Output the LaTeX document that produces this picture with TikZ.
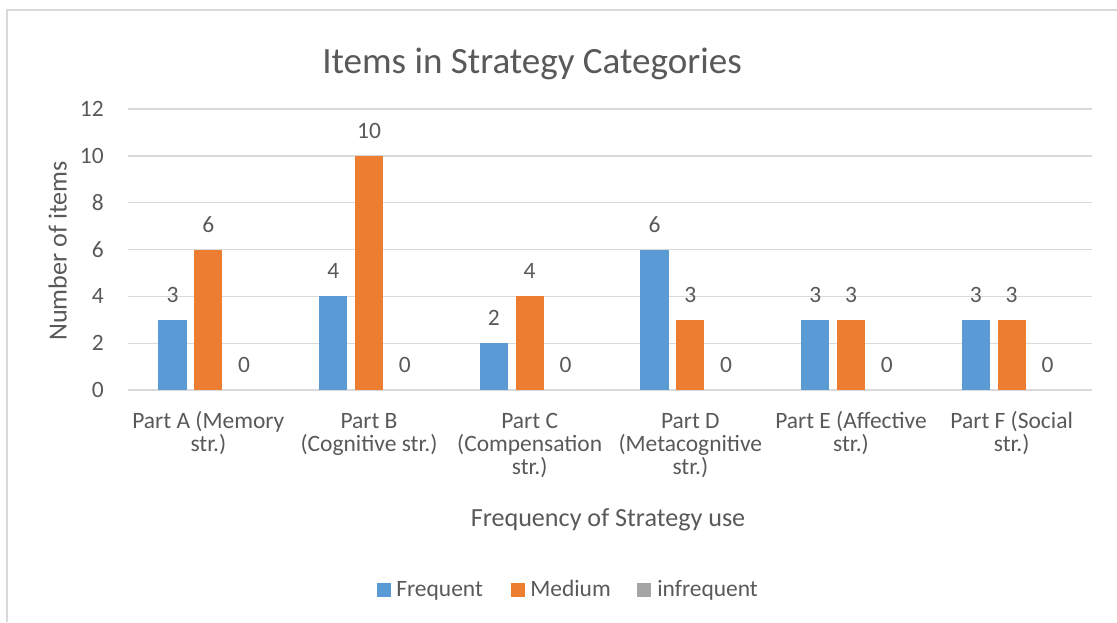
\documentclass[tikz,border=0pt]{standalone}
\usepackage{fontspec}
\setmainfont{Carlito}
\usepackage{tikz}
\definecolor{freqblue}{RGB}{91,155,213}
\definecolor{medorange}{RGB}{237,125,49}
\definecolor{infgray}{RGB}{165,165,165}
\definecolor{gridgray}{RGB}{217,217,217}
\definecolor{txtgray}{RGB}{89,89,89}
\newcommand{\firstline}{\rule{0pt}{14pt}}
\tikzset{
ticklbl/.style={anchor=base east, inner sep=0pt, text=txtgray, font=\fontsize{17.6}{17.6}\selectfont}, % numbers on the value axis
vallbl/.style={anchor=base, inner sep=0pt, text=txtgray, font=\fontsize{17.6}{17.6}\selectfont}, % numbers over the bars
catlbl/.style={anchor=north, align=center, inner sep=0pt, text=txtgray, font=\fontsize{17.6}{17.25}\selectfont},
axtitle/.style={anchor=base, inner sep=0pt, text=txtgray, font=\fontsize{19.6}{19.6}\selectfont},
legtxt/.style={anchor=base west, inner sep=0pt, text=txtgray, font=\fontsize{17.6}{17.6}\selectfont},
gridline/.style={gridgray, line width=1pt},
}

\begin{document}
\begin{tikzpicture}[x=0.75pt,y=0.75pt,yscale=-1,xscale=1]
\useasboundingbox (0,0) rectangle (1117,622);
%Frame
\draw [gridgray, line width=1.5pt] (7,622) -- (7,10) -- (1117,10) ;
%Grid Lines
\draw [gridline] (128,390) -- (1092,390) ;
\draw [gridline] (128,343.17) -- (1092,343.17) ;
\draw [gridline] (128,296.33) -- (1092,296.33) ;
\draw [gridline] (128,249.5) -- (1092,249.5) ;
\draw [gridline] (128,202.67) -- (1092,202.67) ;
\draw [gridline] (128,155.83) -- (1092,155.83) ;
\draw [gridline] (128,109) -- (1092,109) ;
%Bars Part A
\fill [freqblue] (158.38,390) rectangle (186.68,319.75) ;
\fill [medorange] (194.18,390) rectangle (222.48,249.5) ;
%Bars Part B
\fill [freqblue] (319.05,390) rectangle (347.35,296.33) ;
\fill [medorange] (354.85,390) rectangle (383.15,155.83) ;
%Bars Part C
\fill [freqblue] (479.72,390) rectangle (508.02,343.17) ;
\fill [medorange] (515.52,390) rectangle (543.82,296.33) ;
%Bars Part D
\fill [freqblue] (640.38,390) rectangle (668.68,249.5) ;
\fill [medorange] (676.18,390) rectangle (704.48,319.75) ;
%Bars Part E
\fill [freqblue] (801.05,390) rectangle (829.35,319.75) ;
\fill [medorange] (836.85,390) rectangle (865.15,319.75) ;
%Bars Part F
\fill [freqblue] (961.72,390) rectangle (990.02,319.75) ;
\fill [medorange] (997.52,390) rectangle (1025.82,319.75) ;
%Legend
\fill [freqblue] (376.7,583) rectangle (390.7,596.7) ;
\fill [medorange] (511,583) rectangle (525,596.7) ;
\fill [infgray] (637.3,583) rectangle (651.3,596.7) ;
\draw (532,73.3) node (title) [axtitle, font=\fontsize{27.8}{27.8}\selectfont] {Items in Strategy Categories};
\draw (66.7,251) node (ytitle) [axtitle, rotate=90] {Number of items};
\draw (608,526.7) node (xtitle) [axtitle] {Frequency of Strategy use};
\draw (104,116.5) node (tick12) [ticklbl] {12};
\draw (104,163.3) node (tick10) [ticklbl] {10};
\draw (104,210.2) node (tick8) [ticklbl] {8};
\draw (104,257) node (tick6) [ticklbl] {6};
\draw (104,303.8) node (tick4) [ticklbl] {4};
\draw (104,350.7) node (tick2) [ticklbl] {2};
\draw (104,397.5) node (tick0) [ticklbl] {0};
\draw (172.53,302.25) node (valA1) [vallbl] {3};
\draw (208.33,232) node (valA2) [vallbl] {6};
\draw (244.13,372.5) node (valA3) [vallbl] {0};
\draw (333.2,278.83) node (valB1) [vallbl] {4};
\draw (369,138.33) node (valB2) [vallbl] {10};
\draw (404.8,372.5) node (valB3) [vallbl] {0};
\draw (493.87,325.67) node (valC1) [vallbl] {2};
\draw (529.67,278.83) node (valC2) [vallbl] {4};
\draw (565.47,372.5) node (valC3) [vallbl] {0};
\draw (654.53,232) node (valD1) [vallbl] {6};
\draw (690.33,302.25) node (valD2) [vallbl] {3};
\draw (726.13,372.5) node (valD3) [vallbl] {0};
\draw (815.2,302.25) node (valE1) [vallbl] {3};
\draw (851,302.25) node (valE2) [vallbl] {3};
\draw (886.8,372.5) node (valE3) [vallbl] {0};
\draw (975.87,302.25) node (valF1) [vallbl] {3};
\draw (1011.67,302.25) node (valF2) [vallbl] {3};
\draw (1047.47,372.5) node (valF3) [vallbl] {0};
\draw (208.33,409.6) node (catA) [catlbl] {\firstline Part A (Memory\\str.)};
\draw (369,409.6) node (catB) [catlbl] {\firstline Part B\\(Cognitive str.)};
\draw (529.67,409.6) node (catC) [catlbl] {\firstline Part C\\(Compensation\\str.)};
\draw (690.33,409.6) node (catD) [catlbl] {\firstline Part D\\(Metacognitive\\str.)};
\draw (851,409.6) node (catE) [catlbl] {\firstline Part E (Affective\\str.)};
\draw (1011.67,409.6) node (catF) [catlbl] {\firstline Part F (Social\\str.)};
\draw (396,596.7) node (legF) [legtxt] {Frequent};
\draw (530,596.7) node (legM) [legtxt] {Medium};
\draw (657,596.7) node (legI) [legtxt] {infrequent};
\end{tikzpicture}
\end{document}
